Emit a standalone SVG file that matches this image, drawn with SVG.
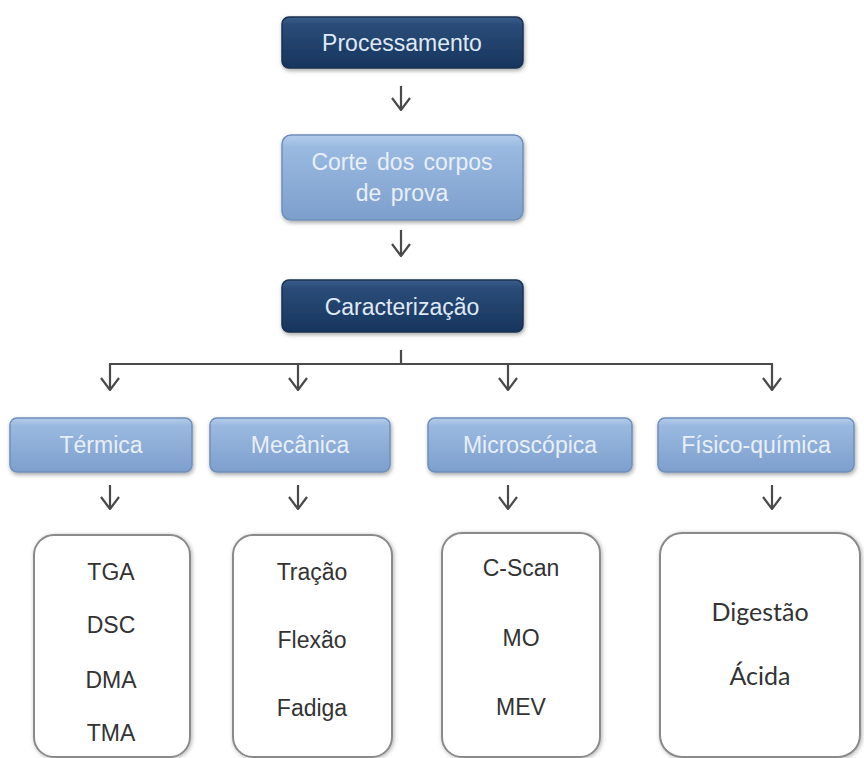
<svg xmlns="http://www.w3.org/2000/svg" width="864" height="758" viewBox="0 0 864 758">
<defs>
<linearGradient id="gDark" x1="0" y1="0" x2="0" y2="1">
<stop offset="0" stop-color="#3a5f8c"/>
<stop offset="0.15" stop-color="#2a4c78"/>
<stop offset="1" stop-color="#17355e"/>
</linearGradient>
<linearGradient id="gLight" x1="0" y1="0" x2="0" y2="1">
<stop offset="0" stop-color="#b4cceb"/>
<stop offset="0.15" stop-color="#99b9e0"/>
<stop offset="1" stop-color="#7d9fcc"/>
</linearGradient>
<filter id="sh" x="-10%" y="-10%" width="120%" height="130%">
<feDropShadow dx="1" dy="2" stdDeviation="2" flood-color="#000" flood-opacity="0.35"/>
</filter>
<filter id="sh2" x="-10%" y="-10%" width="120%" height="120%">
<feDropShadow dx="1" dy="1" stdDeviation="2" flood-color="#000" flood-opacity="0.3"/>
</filter>
<marker id="chev" viewBox="0 0 14 20" refX="13" refY="10" markerWidth="14" markerHeight="20" markerUnits="userSpaceOnUse" orient="auto">
<path d="M1,1 L13,10 L1,19" fill="none" stroke="#4a4a4a" stroke-width="2.2"/>
</marker>
</defs>
<style>
.dark{fill:url(#gDark);stroke:#1a3150;stroke-width:1.5;filter:url(#sh)}
.light{fill:url(#gLight);stroke:#6f8fbb;stroke-width:1.5;filter:url(#sh)}
.white{fill:#fff;stroke:#8a8a8a;stroke-width:2;filter:url(#sh2)}
.td{font-family:"Liberation Sans",Arial,sans-serif;font-size:23px;fill:#dfe9f6;text-anchor:middle}
.tl{font-family:"Liberation Sans",Arial,sans-serif;font-size:23px;fill:#e8eff9;text-anchor:middle}
.tb{font-family:"Liberation Sans",Arial,sans-serif;font-size:23px;fill:#333;text-anchor:middle}
.tc{font-family:Lato,"Open Sans",sans-serif;font-size:25px;fill:#333;text-anchor:middle}
.cn{fill:none;stroke:#4a4a4a;stroke-width:2.2}
</style>
<g id="connectors">
<line class="cn" x1="401" y1="86" x2="401" y2="110" marker-end="url(#chev)"/>
<line class="cn" x1="401" y1="230" x2="401" y2="256" marker-end="url(#chev)"/>
<line class="cn" x1="401" y1="350" x2="401" y2="365"/>
<line class="cn" x1="109" y1="364" x2="773" y2="364"/>
<line class="cn" x1="110" y1="364" x2="110" y2="390" marker-end="url(#chev)"/>
<line class="cn" x1="298" y1="364" x2="298" y2="390" marker-end="url(#chev)"/>
<line class="cn" x1="508" y1="364" x2="508" y2="390" marker-end="url(#chev)"/>
<line class="cn" x1="772" y1="364" x2="772" y2="390" marker-end="url(#chev)"/>
<line class="cn" x1="110" y1="485" x2="110" y2="509" marker-end="url(#chev)"/>
<line class="cn" x1="298" y1="485" x2="298" y2="509" marker-end="url(#chev)"/>
<line class="cn" x1="508" y1="485" x2="508" y2="509" marker-end="url(#chev)"/>
<line class="cn" x1="772" y1="485" x2="772" y2="509" marker-end="url(#chev)"/>
</g>
<g id="processamento">
<rect class="dark" x="282" y="17" width="241" height="51" rx="7"/>
<text class="td" x="402" y="51">Processamento</text>
</g>
<g id="corte">
<rect class="light" x="282" y="135" width="241" height="85" rx="9"/>
<text class="tl" x="402" y="170" word-spacing="3">Corte dos corpos</text>
<text class="tl" x="402" y="201" word-spacing="3">de prova</text>
</g>
<g id="caracterizacao">
<rect class="dark" x="282" y="280" width="241" height="52" rx="7"/>
<text class="td" x="402" y="315">Caracterização</text>
</g>
<g id="termica">
<rect class="light" x="10" y="418" width="182" height="54" rx="7"/>
<text class="tl" x="101" y="453">Térmica</text>
</g>
<g id="mecanica">
<rect class="light" x="210" y="418" width="180" height="54" rx="7"/>
<text class="tl" x="300" y="453">Mecânica</text>
</g>
<g id="microscopica">
<rect class="light" x="428" y="418" width="204" height="54" rx="7"/>
<text class="tl" x="530" y="453">Microscópica</text>
</g>
<g id="fisicoquimica">
<rect class="light" x="658" y="418" width="196" height="54" rx="7"/>
<text class="tl" x="756" y="453">Físico-química</text>
</g>
<g id="box-termica">
<rect class="white" x="34" y="535" width="156" height="222" rx="20"/>
<text class="tb" x="111" y="580">TGA</text>
<text class="tb" x="111" y="633">DSC</text>
<text class="tb" x="111" y="688">DMA</text>
<text class="tb" x="111" y="741">TMA</text>
</g>
<g id="box-mecanica">
<rect class="white" x="233" y="535" width="159" height="222" rx="20"/>
<text class="tb" x="312" y="580">Tração</text>
<text class="tb" x="312" y="648">Flexão</text>
<text class="tb" x="312" y="716">Fadiga</text>
</g>
<g id="box-microscopica">
<rect class="white" x="442" y="533" width="158" height="224" rx="20"/>
<text class="tb" x="521" y="576">C-Scan</text>
<text class="tb" x="521" y="646">MO</text>
<text class="tb" x="521" y="715">MEV</text>
</g>
<g id="box-fisicoquimica">
<rect class="white" x="660" y="533" width="200" height="224" rx="22"/>
<text class="tc" x="760" y="621">Digestão</text>
<text class="tc" x="760" y="685">Ácida</text>
</g>
</svg>
